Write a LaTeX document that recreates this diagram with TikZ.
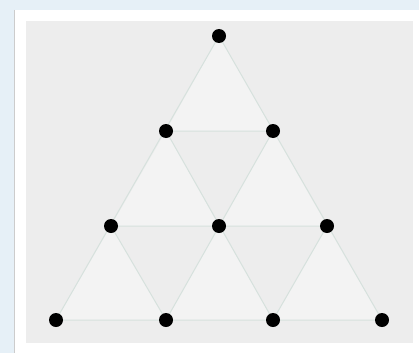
\documentclass[tikz,border=0pt]{standalone}
\begin{document}
\begin{tikzpicture}[x=1pt,y=-1pt,
  dot/.style={circle,fill=black,inner sep=0pt,minimum size=14pt},
  edge/.style={draw=edgec,line width=1pt},
  upfill/.style={fill=upc}]
\definecolor{edgec}{HTML}{D6E1DD}
\definecolor{upc}{HTML}{F3F3F3}
\definecolor{bgc}{HTML}{EDEDED}
\definecolor{wm}{HTML}{E6F0F7}
\useasboundingbox (0,0) rectangle (419,353);
\fill[wm] (0,0) rectangle (419,353);
\fill[white] (14,10) rectangle (419,353);
\draw[gray!40,line width=1pt] (14.5,10) -- (14.5,353);
\fill[bgc] (26,21) rectangle (413,343);
% node positions
\coordinate (a) at (219,36);
\coordinate (b1) at (166,131); \coordinate (b2) at (273,131);
\coordinate (c1) at (111,226); \coordinate (c2) at (219,226); \coordinate (c3) at (327,226);
\coordinate (d1) at (56,320); \coordinate (d2) at (166,320); \coordinate (d3) at (273,320); \coordinate (d4) at (382,320);
% up triangles
\fill[upfill] (a) -- (b1) -- (b2) -- cycle;
\fill[upfill] (b1) -- (c1) -- (c2) -- cycle;
\fill[upfill] (b2) -- (c2) -- (c3) -- cycle;
\fill[upfill] (c1) -- (d1) -- (d2) -- cycle;
\fill[upfill] (c2) -- (d2) -- (d3) -- cycle;
\fill[upfill] (c3) -- (d3) -- (d4) -- cycle;
% edges
\path[edge] (a) -- (d1) (a) -- (d4) (b1) -- (b2) (c1) -- (c3) (d1) -- (d4)
  (b1) -- (d3) (b2) -- (d2) (c1) -- (d2) (c3) -- (d3);
% dots
\foreach \n in {a,b1,b2,c1,c2,c3,d1,d2,d3,d4}
  \node[dot] (n\n) at (\n) {};
\end{tikzpicture}
\end{document}
